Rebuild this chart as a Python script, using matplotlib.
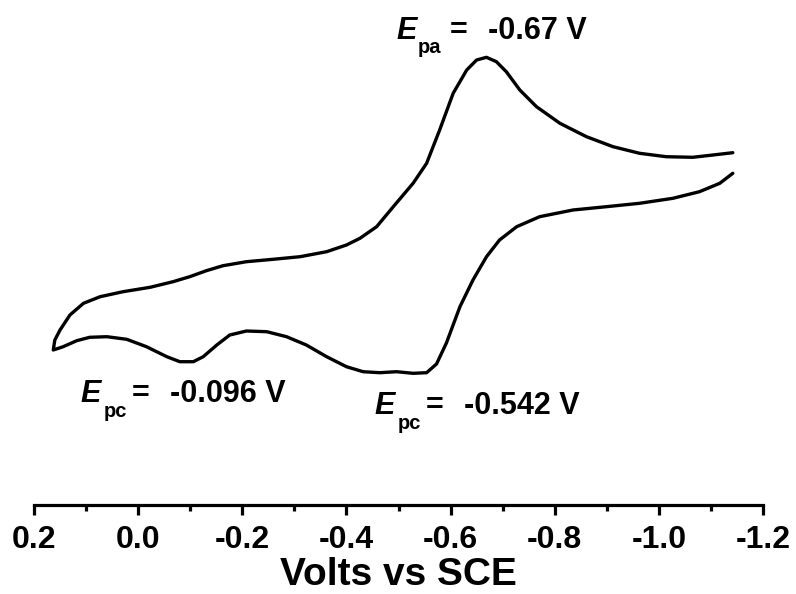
import numpy as np
import matplotlib
matplotlib.use('Agg')
import matplotlib.pyplot as plt
from matplotlib.ticker import MultipleLocator

plt.rcParams['font.family'] = ['Liberation Sans', 'DejaVu Sans']

# upper branch (anodic), left tip -> right end
v_up = [0.163, 0.160, 0.150, 0.131, 0.105, 0.073, 0.029, -0.023, -0.067, -0.099,
        -0.131, -0.163, -0.208, -0.259, -0.311, -0.362, -0.400, -0.426, -0.458, -0.490,
        -0.528, -0.554, -0.579, -0.605, -0.631, -0.650, -0.669, -0.688, -0.707, -0.733,
        -0.765, -0.810, -0.861, -0.912, -0.963, -1.014, -1.065, -1.104, -1.142]
i_up = [1.55, 1.65, 1.75, 1.90, 2.017, 2.083, 2.133, 2.177, 2.233, 2.283,
        2.343, 2.393, 2.433, 2.457, 2.483, 2.533, 2.60, 2.667, 2.783, 2.983,
        3.217, 3.417, 3.75, 4.117, 4.35, 4.45, 4.477, 4.433, 4.333, 4.15,
        3.983, 3.817, 3.683, 3.583, 3.517, 3.483, 3.477, 3.50, 3.523]

# lower branch (cathodic), left tip -> right end
v_low = [0.163, 0.144, 0.118, 0.093, 0.060, 0.022, -0.016, -0.055, -0.080, -0.106,
         -0.125, -0.151, -0.176, -0.208, -0.247, -0.285, -0.323, -0.362, -0.400, -0.432,
         -0.464, -0.496, -0.528, -0.554, -0.573, -0.592, -0.618, -0.643, -0.669, -0.694,
         -0.727, -0.771, -0.835, -0.899, -0.963, -1.027, -1.078, -1.117, -1.142]
i_low = [1.55, 1.583, 1.643, 1.677, 1.683, 1.657, 1.583, 1.483, 1.433, 1.433,
         1.483, 1.60, 1.70, 1.74, 1.733, 1.683, 1.60, 1.483, 1.383, 1.333,
         1.323, 1.333, 1.317, 1.323, 1.41, 1.62, 1.983, 2.25, 2.483, 2.65,
         2.783, 2.883, 2.95, 2.983, 3.017, 3.067, 3.133, 3.217, 3.317]

W, H = 796, 594
fig = plt.figure(figsize=(W / 100, H / 100), dpi=100)
ax = fig.add_axes([34 / W, 1 - 505 / H, (763 - 34) / W, (505 - 40) / H])

v = v_up[::-1] + v_low[1:]
cur = i_up[::-1] + i_low[1:]
ax.plot(v, cur, color='black', lw=2.4, solid_joinstyle='round', solid_capstyle='round')

ax.set_xlim(0.2, -1.2)
ax.set_ylim(0, 4.65)
for s in ['top', 'left', 'right']:
    ax.spines[s].set_visible(False)
ax.spines['bottom'].set_linewidth(2.3)
ax.set_yticks([])
ax.xaxis.set_minor_locator(MultipleLocator(0.1))
ax.tick_params(axis='x', which='major', direction='out', length=7.5, width=2.3, pad=7,
               labelsize=23)
ax.tick_params(axis='x', which='minor', direction='out', length=4, width=2.3)
ax.set_xticks(np.arange(0.2, -1.21, -0.2))
ax.set_xticklabels(['0.2', '0.0', '-0.2', '-0.4', '-0.6', '-0.8', '-1.0', '-1.2'],
                   fontweight='bold')
ax.set_xlabel('Volts vs SCE', fontsize=28, fontweight='bold', labelpad=1)


def peak_label(x_e, y_e, sub, x_sub, y_sub, x_eq, value, x_val, size=22):
    fig.text(x_e / W, 1 - y_e / H, 'E', fontsize=size, fontweight='bold',
             fontstyle='italic', va='baseline')
    fig.text(x_sub / W, 1 - y_sub / H, sub, fontsize=size * 0.66, fontweight='bold',
             va='baseline')
    fig.text(x_eq / W, 1 - y_e / H, '=', fontsize=size, fontweight='bold', va='baseline')
    fig.text(x_val / W, 1 - y_e / H, value, fontsize=size, fontweight='bold',
             va='baseline')


peak_label(396, 39, 'pa', 418, 53, 450, '-0.67 V', 488)
peak_label(80, 402, 'pc', 104, 417, 132, '-0.096 V', 170)
peak_label(374, 414, 'pc', 398, 429, 426, '-0.542 V', 464)

fig.savefig('out.png', dpi=100)
